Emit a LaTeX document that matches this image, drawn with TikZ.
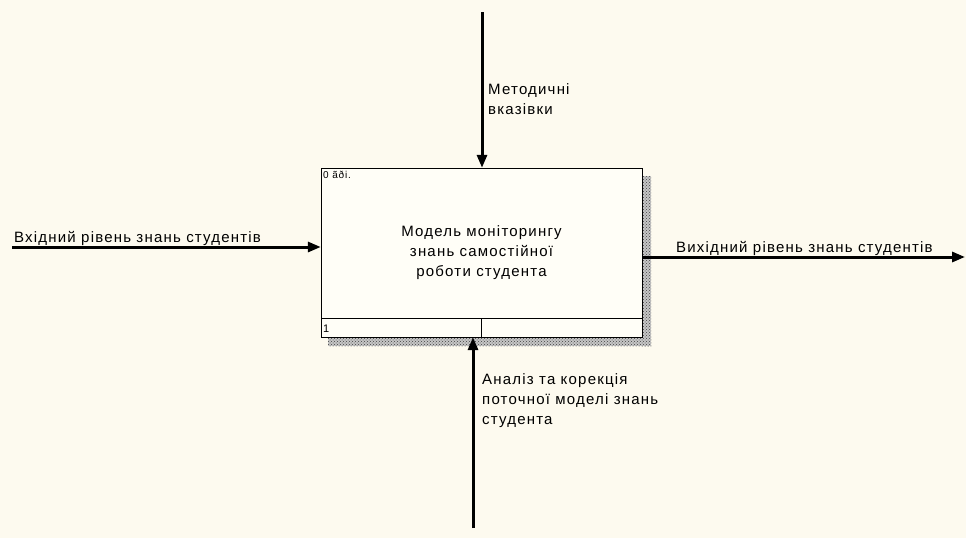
\documentclass[tikz,border=0pt]{standalone}
\usepackage{fontspec}
\setmainfont{Liberation Sans}
\newfontfamily\idefont[LetterSpace=8]{Liberation Sans}
\usetikzlibrary{positioning,arrows.meta,patterns}
\definecolor{paper}{HTML}{FDFAEF}
\definecolor{boxfill}{HTML}{FFFEF7}
\tikzset{
	flow/.style={line width=3pt,-{Triangle[length=13pt,width=10pt]}},
	lbl/.style={font=\idefont\fontsize{15}{20}\selectfont,align=left,inner sep=0pt},
	shade/.style={preaction={fill=gray!45},pattern=crosshatch dots,pattern color=black!75}
}
\newcommand{\shadowbar}[2]{
	\fill [shade] #1 rectangle #2
}

\begin{document}
\begin{tikzpicture}[x=1pt,y=-1pt]
	\useasboundingbox (0,0) rectangle (966,538);
	\fill [paper] (0,0) rectangle (966,538);

	% shadow of the block
	\shadowbar {(642,176)}{(651,346)};
	\shadowbar {(328,337)}{(651,346)};

	% the block
	\node [draw,fill=boxfill,minimum width=321pt,minimum height=169pt,inner sep=0pt] (act) at (481.5,252.5) {};
	\node [lbl,align=center] (acttxt) at (act.center) {Модель моніторингу\\знань самостійної\\роботи студента};
	\coordinate (strip) at (321,318);
	\draw (strip) -- (act.east |- strip);
	\draw (act.south) -- (act.south |- strip);
	\node [font=\idefont\fontsize{10}{10}\selectfont,anchor=north west,inner sep=0pt] (nodeid) at (323,171) {0 ãði.};
	\node [font=\idefont\fontsize{11}{10}\selectfont,anchor=base west,inner sep=0pt] (actno) at (323,332) {1};

	% input
	\coordinate (inA) at (12,247);
	\draw [flow] (inA) -- (act.west |- inA);
	\node [lbl,anchor=base west] (inL) at (14,242) {Вхідний рівень знань студентів};

	% output
	\coordinate (outB) at (965,257);
	\draw [flow] (act.east |- outB) -- (outB);
	\node [lbl,anchor=base west] (outL) at (676,252) {Вихідний рівень знань студентів};

	% control
	\coordinate (ctlA) at (482,12);
	\draw [flow] (ctlA) -- (ctlA |- act.north);
	\node [lbl,anchor=north west] (ctlL) at (488,83) {Методичні\\вказівки};

	% mechanism
	\coordinate (mecA) at (473,528);
	\draw [flow] (mecA) -- (mecA |- act.south);
	\node [lbl,anchor=north west] (mecL) at (482,373) {Аналіз та корекція\\поточної моделі знань\\студента};
\end{tikzpicture}
\end{document}
